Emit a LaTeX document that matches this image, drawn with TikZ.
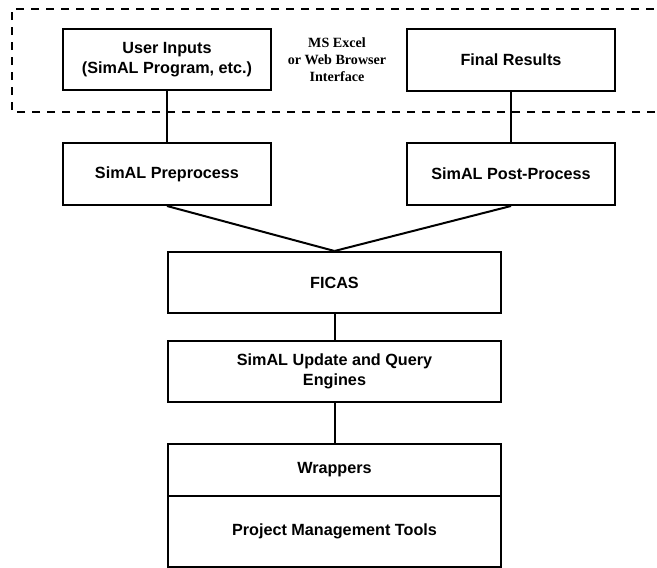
\documentclass[tikz,border=0pt]{standalone}
\usepackage{fontspec}
\setmainfont{Liberation Sans}
\newfontfamily\serifb{Liberation Serif}
\begin{document}
\begin{tikzpicture}[x=1pt,y=-1pt,
  box/.style={draw,line width=2pt,rectangle,inner sep=0pt,align=center,
    font=\fontsize{16.2}{20}\selectfont\bfseries},
  conn/.style={line width=2pt},
  frame/.style={line width=1.5pt,dash pattern=on 8pt off 7pt}]
\useasboundingbox (0,0) rectangle (657,568);
% dashed interface region
\coordinate (fa) at (12,112);
\coordinate (fb) at (12,9);
\coordinate (fc) at (670,9);
\coordinate (fd) at (670,112);
\draw[frame] (fd) -- (fa) -- (fb) -- (fc);
\node[font=\serifb\fontsize{14.1}{17}\selectfont\bfseries,align=center] (iface) at (337,60) {MS Excel\\or Web Browser\\Interface};
% boxes
\node[box,minimum width=208pt,minimum height=61pt] (ui) at (167,59.5) {User Inputs\\(SimAL Program, etc.)};
\node[box,minimum width=208pt,minimum height=62pt] (fr) at (511,60) {Final Results};
\node[box,minimum width=208pt,minimum height=62pt] (pre) at (167,174) {SimAL Preprocess};
\node[box,minimum width=208pt,minimum height=62pt] (post) at (511,174) {SimAL Post-Process};
\node[box,minimum width=333pt,minimum height=61pt] (ficas) at (334.5,282.5) {FICAS};
\node[box,minimum width=333pt,minimum height=61pt] (upd) at (334.5,371.5) {SimAL Update and Query\\Engines};
\node[box,minimum width=333pt,minimum height=52pt] (wrap) at (334.5,470) {Wrappers};
\node[box,minimum width=333pt,minimum height=71pt] (pmt) at (334.5,531.5) {Project Management Tools};
% connectors
\draw[conn] (ui.south) -- (pre.north);
\draw[conn] (fr.south) -- (post.north);
\draw[conn] (pre.south) -- (ficas.north);
\draw[conn] (post.south) -- (ficas.north);
\draw[conn] (ficas.south) -- (upd.north);
\draw[conn] (upd.south) -- (wrap.north);
\end{tikzpicture}
\end{document}
